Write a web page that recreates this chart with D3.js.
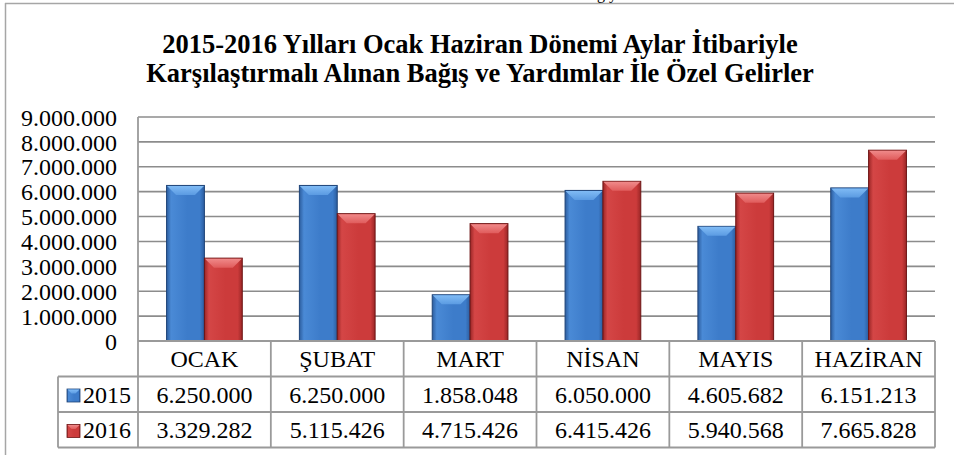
<!DOCTYPE html>
<html>
<head>
<meta charset="utf-8">
<script src="https://cdn.jsdelivr.net/npm/d3@7"></script>
<style>
  body { margin: 0; background: #fff; }
  svg text { font-family: "Liberation Serif", "Times New Roman", serif; }
</style>
</head>
<body>
<div id="chart"></div>
<script>
// data
var months = ["OCAK", "ŞUBAT", "MART", "NİSAN", "MAYIS", "HAZİRAN"];
var years = ["2015", "2016"];
var values2015 = [6250000, 6250000, 1858048, 6050000, 4605682, 6151213];
var values2016 = [3329282, 5115426, 4715426, 6415426, 5940568, 7665828];
var yTicks = [0, 1000000, 2000000, 3000000, 4000000, 5000000, 6000000, 7000000, 8000000, 9000000];
var titleLines = ["2015-2016 Yılları Ocak Haziran Dönemi Aylar İtibariyle",
                  "Karşılaştırmalı Alınan Bağış ve Yardımlar İle Özel Gelirler"];

var series = [values2015, values2016];
var colors = [
    { dark: "#1f4478", edge: "#2c5d9e", mid: "#3d7cca", light: "#4a8ad6", top1: "#80bbf5", top2: "#5b9be2" },
    { dark: "#6e1414", edge: "#9a2626", mid: "#cc3b3b", light: "#d44646", top1: "#f08a8a", top2: "#e05c5c" }
];

var width = 954, height = 455;
var margin = { top: 117, right: 19, bottom: 114, left: 138 };
var plotW = width - margin.left - margin.right;
var plotH = height - margin.top - margin.bottom;
var rowH = 35.5;
var legendLeft = 58;

var fmt = d3.formatLocale({ decimal: ",", thousands: ".", grouping: [3], currency: ["", ""] }).format(",d");

var svg = d3.select("#chart").append("svg")
    .attr("width", width)
    .attr("height", height);

var defs = svg.append("defs");
colors.forEach(function(c, i) {
    var g = defs.append("linearGradient").attr("id", "body" + i)
        .attr("x1", 0).attr("x2", 1).attr("y1", 0).attr("y2", 0);
    g.append("stop").attr("offset", "0%").attr("stop-color", c.edge);
    g.append("stop").attr("offset", "12%").attr("stop-color", c.light);
    g.append("stop").attr("offset", "55%").attr("stop-color", c.mid);
    g.append("stop").attr("offset", "88%").attr("stop-color", c.mid);
    g.append("stop").attr("offset", "100%").attr("stop-color", c.edge);
    var t = defs.append("linearGradient").attr("id", "top" + i)
        .attr("x1", 0).attr("x2", 0).attr("y1", 0).attr("y2", 1);
    t.append("stop").attr("offset", "0%").attr("stop-color", c.top1);
    t.append("stop").attr("offset", "100%").attr("stop-color", c.top2);
});

// outer frame (only top and left visible)
svg.append("line").attr("x1", 5).attr("x2", width).attr("y1", 3.5).attr("y2", 3.5)
    .attr("stroke", "#a6a6a6").attr("stroke-width", 1.5);
svg.append("line").attr("x1", 5.5).attr("x2", 5.5).attr("y1", 3).attr("y2", height)
    .attr("stroke", "#a6a6a6").attr("stroke-width", 1.5);

// scrap of the page text above the chart
svg.append("text").attr("x", 597).attr("y", -1)
    .attr("font-size", 16).text("ğ y");

// title
svg.append("g").selectAll("text")
    .data(titleLines).enter().append("text")
    .attr("x", 480)
    .attr("y", function(d, i) { return 53 + i * 29; })
    .attr("text-anchor", "middle")
    .attr("font-weight", "bold")
    .attr("font-size", 26.5)
    .text(function(d) { return d; });

var x = d3.scaleBand().domain(months).range([0, plotW]);
var x1 = d3.scaleBand().domain(years).range([x.bandwidth() * 0.215, x.bandwidth() * 0.785]);
var y = d3.scaleLinear().domain([0, 9000000]).range([plotH, 0]);

var g = svg.append("g").attr("transform", "translate(" + margin.left + "," + margin.top + ")");

// gridlines
g.append("g").selectAll("line")
    .data(yTicks).enter().append("line")
    .attr("x1", 0).attr("x2", plotW)
    .attr("y1", function(d) { return y(d); })
    .attr("y2", function(d) { return y(d); })
    .attr("stroke", "#8c8c8c")
    .attr("stroke-width", 1.6);

// y axis
var yAxis = g.append("g").call(d3.axisLeft(y).tickValues(yTicks).tickFormat(fmt).tickSize(0).tickPadding(21));
yAxis.select(".domain").remove();
yAxis.selectAll("text")
    .attr("font-size", 24)
    .attr("fill", "#000")
    .attr("dy", "0.34em");

// bars with a bevelled top
var bevel = 9;
var grp = g.append("g").selectAll("g")
    .data(months).enter().append("g")
    .attr("transform", function(d) { return "translate(" + x(d) + ",0)"; });

years.forEach(function(yr, si) {
    var bars = grp.append("g");
    bars.append("rect")
        .attr("x", x1(yr))
        .attr("width", x1.bandwidth())
        .attr("y", function(d, i) { return y(series[si][i]); })
        .attr("height", function(d, i) { return plotH - y(series[si][i]); })
        .attr("fill", "url(#body" + si + ")")
        .attr("stroke", colors[si].dark)
        .attr("stroke-width", 1);
    bars.append("path")
        .attr("d", function(d, i) {
            var x0 = x1(yr) + 0.5, xr = x1(yr) + x1.bandwidth() - 0.5, yt = y(series[si][i]) + 0.5;
            return "M" + x0 + "," + yt + "L" + xr + "," + yt +
                "L" + (xr - bevel) + "," + (yt + bevel) + "L" + (x0 + bevel) + "," + (yt + bevel) + "Z";
        })
        .attr("fill", "url(#top" + si + ")");
});

// axis line and table grid
var tbl = g.append("g").attr("stroke", "#9a9a9a").attr("stroke-width", 1.8);
tbl.append("line").attr("x1", 0).attr("x2", 0).attr("y1", 0).attr("y2", plotH + rowH * 3);
tbl.append("line").attr("x1", 0).attr("x2", plotW).attr("y1", plotH).attr("y2", plotH);
[1, 2, 3].forEach(function(r) {
    tbl.append("line")
        .attr("x1", legendLeft - margin.left).attr("x2", plotW)
        .attr("y1", plotH + rowH * r).attr("y2", plotH + rowH * r);
});
tbl.append("line")
    .attr("x1", legendLeft - margin.left).attr("x2", legendLeft - margin.left)
    .attr("y1", plotH + rowH).attr("y2", plotH + rowH * 3);
tbl.selectAll(".vline")
    .data(months).enter().append("line")
    .attr("x1", function(d) { return x(d) + x.bandwidth(); })
    .attr("x2", function(d) { return x(d) + x.bandwidth(); })
    .attr("y1", plotH).attr("y2", plotH + rowH * 3);

// header row
g.append("g").selectAll("text")
    .data(months).enter().append("text")
    .attr("x", function(d) { return x(d) + x.bandwidth() / 2; })
    .attr("y", plotH + 26)
    .attr("text-anchor", "middle")
    .attr("font-size", 24)
    .text(function(d) { return d; });

// value rows with legend keys
years.forEach(function(yr, si) {
    var ry = plotH + rowH * (si + 1);
    var key = g.append("g").attr("transform", "translate(" + (67 - margin.left) + "," + (ry + 12.5) + ")");
    key.append("rect").attr("width", 13).attr("height", 13)
        .attr("fill", "url(#body" + si + ")").attr("stroke", colors[si].dark).attr("stroke-width", 0.8);
    key.append("path").attr("d", "M0.5,0.5L12.5,0.5L8.5,4.5L4.5,4.5Z").attr("fill", "url(#top" + si + ")");
    g.append("text")
        .attr("x", 83 - margin.left)
        .attr("y", ry + 26)
        .attr("font-size", 24)
        .text(yr);
    g.append("g").selectAll("text")
        .data(series[si]).enter().append("text")
        .attr("x", function(d, i) { return x(months[i]) + x.bandwidth() / 2; })
        .attr("y", ry + 26)
        .attr("text-anchor", "middle")
        .attr("font-size", 24)
        .text(function(d) { return fmt(d); });
});
</script>
</body>
</html>
